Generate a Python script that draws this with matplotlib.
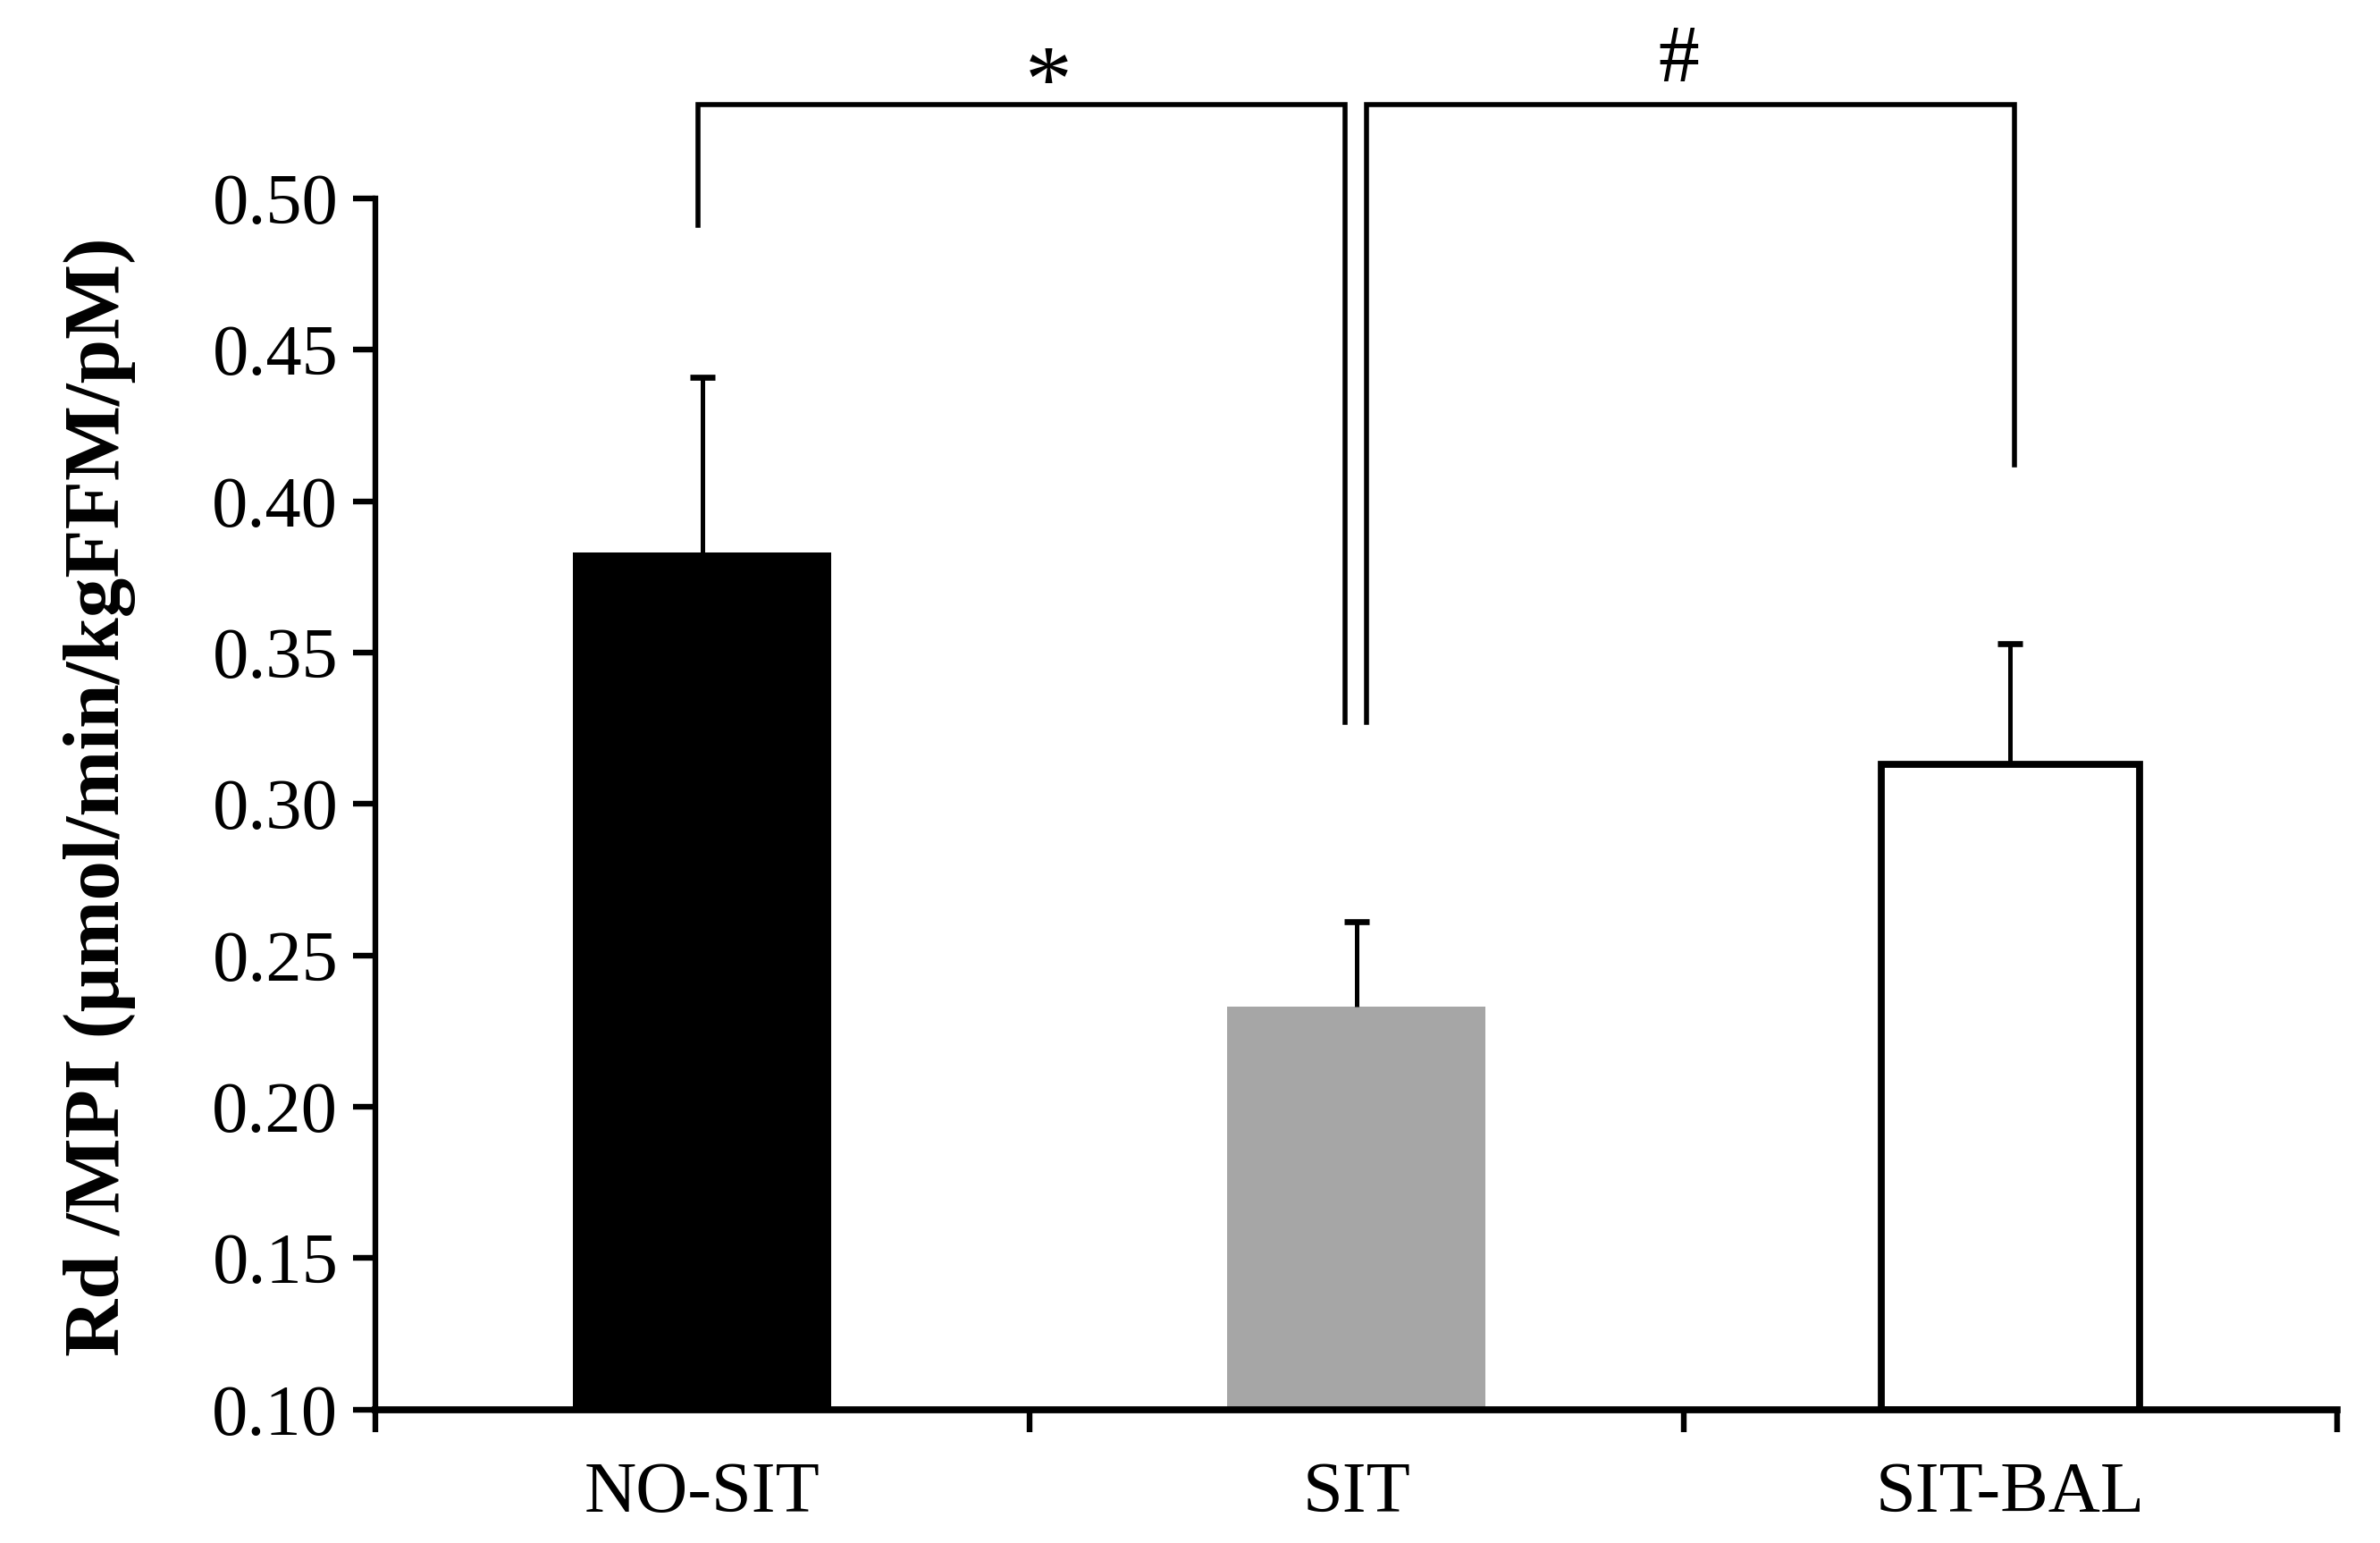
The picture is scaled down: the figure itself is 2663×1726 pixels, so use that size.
import matplotlib
matplotlib.use("Agg")
import matplotlib.pyplot as plt

categories = ["NO-SIT", "SIT", "SIT-BAL"]
means = [0.383, 0.233, 0.313]
sems = [0.058, 0.028, 0.040]
yticks = [0.10, 0.15, 0.20, 0.25, 0.30, 0.35, 0.40, 0.45, 0.50]
sig_labels = ["*", "#"]

plt.rcParams['font.family'] = ['Liberation Serif', 'DejaVu Serif']

fig = plt.figure(figsize=(13.315, 8.63), dpi=200)
ax = fig.add_axes([0.1577, 0.0865, 0.8244, 0.7849])

xpos = [0.5, 1.5, 2.5]
face = ["black", "#a6a6a6", "white"]
edge = ["black", "#a6a6a6", "black"]
lw = [0, 0, 2.8]
for x, m, fc, ec, l in zip(xpos, means, face, edge, lw):
    ax.bar(x, m - 0.10, bottom=0.10, width=0.395, color=fc, edgecolor=ec,
           linewidth=l, zorder=2)

for x, m, e in zip(xpos, means, sems):
    _, caps, _ = ax.errorbar(x, m, yerr=[[0], [e]], fmt='none', ecolor='black',
                             elinewidth=1.8, capsize=5, capthick=2.4, zorder=3)
    caps[0].set_visible(False)

ax.set_xlim(0, 3)
ax.set_ylim(0.10, 0.50)
ax.set_yticks(yticks)
ax.set_yticklabels([f"{v:.2f}" for v in yticks])
ax.set_xticks([0, 1, 2, 3])
ax.set_xticklabels([])
ax.set_xticks(xpos, minor=True)
ax.set_xticklabels(categories, minor=True)
ax.tick_params(axis='x', which='major', direction='out', length=9, width=2.3)
ax.tick_params(axis='x', which='minor', length=0, pad=21, labelsize=29)
ax.tick_params(axis='y', direction='out', length=9, width=2.3, labelsize=29, pad=6)

for s in ['top', 'right']:
    ax.spines[s].set_visible(False)
ax.spines['left'].set_linewidth(2.3)
ax.spines['bottom'].set_linewidth(2.8)

# significance brackets
blw = 2.0
ax.plot([0.494, 0.494, 1.483, 1.483], [0.491, 0.531, 0.531, 0.327],
        color='black', lw=blw, clip_on=False, solid_joinstyle='miter')
ax.plot([1.515, 1.515, 2.506, 2.506], [0.327, 0.531, 0.531, 0.412],
        color='black', lw=blw, clip_on=False, solid_joinstyle='miter')
ax.text(1.03, 0.522, sig_labels[0], ha='center', va='bottom', fontsize=38,
        clip_on=False)
ax.text(1.993, 0.533, sig_labels[1], ha='center', va='bottom', fontsize=33,
        clip_on=False)

fig.text(0.0417, 0.4838, "Rd /MPI (µmol/min/kgFFM/pM)", rotation=90,
         ha='center', va='center', fontsize=32, fontweight='bold')

fig.savefig("out.png", dpi=200)
